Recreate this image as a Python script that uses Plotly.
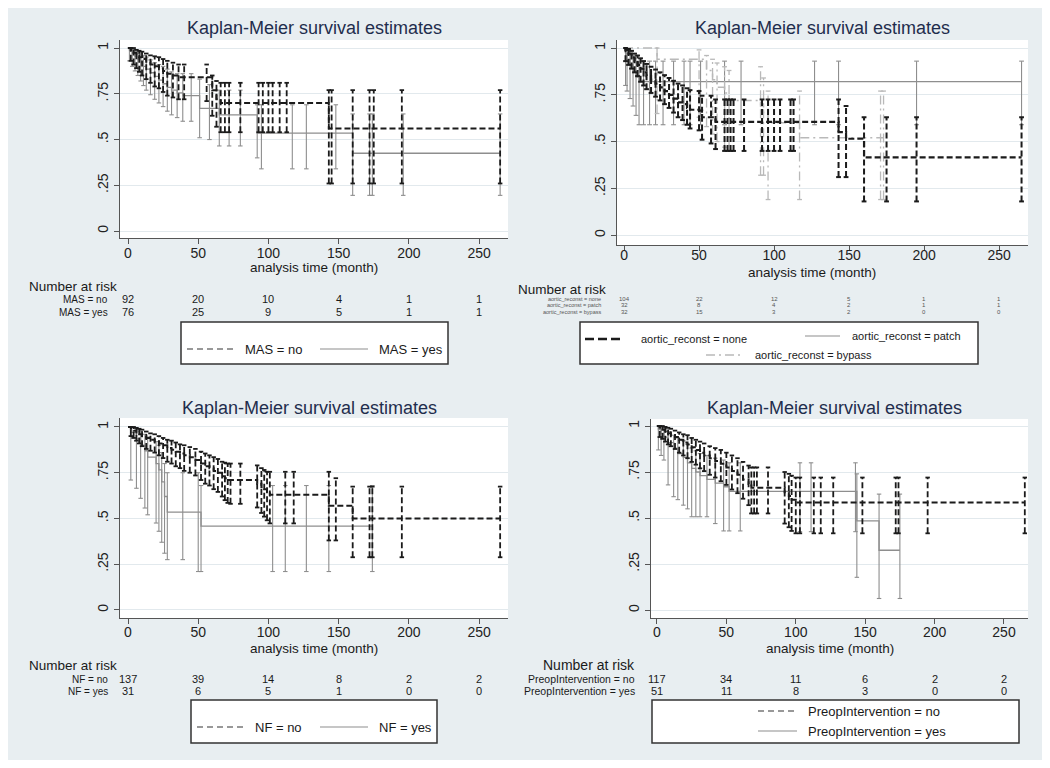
import plotly.graph_objects as go

# The page body has an 8px margin; the figure is sized and positioned so that
# screen pixel coordinates below map directly onto the reference.
OFF = 8
W, H = 1042, 760
def px(x): return (x - OFF) / W
def py(y): return 1 - (y - OFF) / H

# ---------------- DATA ----------------
time_ticks = [0, 50, 100, 150, 200, 250]
surv_ticks = [0, 0.25, 0.5, 0.75, 1]
surv_tick_text = ["0", ".25", ".5", ".75", "1"]

# Panel 1: MAS
mas_no_t = [2, 4, 6, 8, 10, 13, 16, 19, 22, 25, 28, 32, 36, 40, 56, 60, 63, 66, 69, 72, 80, 93, 96, 100, 103, 108, 113, 143, 145, 160, 172, 175, 195, 265]
mas_no_s = [0.99, 0.975, 0.96, 0.95, 0.94, 0.925, 0.91, 0.90, 0.89, 0.875, 0.86, 0.85, 0.84, 0.84, 0.84, 0.77, 0.72, 0.70, 0.70, 0.70, 0.70, 0.70, 0.70, 0.70, 0.70, 0.70, 0.70, 0.56, 0.56, 0.56, 0.56, 0.56, 0.56, 0.56]
mas_no_hi = [1.0, 1.0, 0.99, 0.985, 0.98, 0.97, 0.96, 0.955, 0.95, 0.94, 0.93, 0.92, 0.91, 0.91, 0.91, 0.85, 0.82, 0.81, 0.81, 0.81, 0.81, 0.81, 0.81, 0.81, 0.81, 0.81, 0.81, 0.77, 0.77, 0.77, 0.77, 0.77, 0.77, 0.77]
mas_no_lo = [0.93, 0.91, 0.89, 0.87, 0.85, 0.83, 0.81, 0.79, 0.78, 0.76, 0.74, 0.73, 0.72, 0.72, 0.71, 0.63, 0.57, 0.54, 0.54, 0.54, 0.54, 0.54, 0.54, 0.54, 0.54, 0.54, 0.54, 0.26, 0.26, 0.26, 0.26, 0.26, 0.26, 0.26]

mas_yes_t = [1, 3, 5, 7, 9, 11, 13, 16, 19, 22, 25, 28, 31, 35, 39, 45, 51, 58, 65, 72, 80, 92, 95, 117, 127, 148, 160, 172, 174, 196, 265]
mas_yes_s = [0.99, 0.97, 0.955, 0.94, 0.92, 0.90, 0.885, 0.865, 0.845, 0.825, 0.805, 0.785, 0.77, 0.755, 0.74, 0.74, 0.67, 0.67, 0.635, 0.635, 0.635, 0.535, 0.535, 0.535, 0.535, 0.535, 0.425, 0.425, 0.425, 0.425, 0.425]
mas_yes_hi = [1.0, 1.0, 0.99, 0.98, 0.97, 0.96, 0.95, 0.935, 0.92, 0.91, 0.90, 0.885, 0.87, 0.86, 0.86, 0.86, 0.83, 0.80, 0.77, 0.77, 0.77, 0.69, 0.69, 0.69, 0.69, 0.69, 0.64, 0.64, 0.64, 0.64, 0.64]
mas_yes_lo = [0.93, 0.90, 0.875, 0.85, 0.82, 0.795, 0.77, 0.745, 0.72, 0.70, 0.68, 0.655, 0.635, 0.62, 0.60, 0.60, 0.51, 0.50, 0.465, 0.465, 0.465, 0.40, 0.34, 0.34, 0.34, 0.34, 0.195, 0.195, 0.195, 0.195, 0.195]

mas_risk_labels = ["MAS = no", "MAS = yes"]
mas_risk_no = [92, 20, 10, 4, 1, 1]
mas_risk_yes = [76, 25, 9, 5, 1, 1]

# Panel 2: aortic_reconst
none_t = [1, 3, 5, 7, 9, 11, 13, 15, 18, 21, 24, 27, 30, 33, 36, 39, 42, 44, 50, 52, 58, 61, 67, 69, 71, 73, 80, 92, 96, 100, 104, 111, 113, 143, 148, 160, 175, 195, 265]
none_s = [0.99, 0.97, 0.95, 0.93, 0.91, 0.89, 0.87, 0.85, 0.83, 0.81, 0.79, 0.77, 0.75, 0.73, 0.71, 0.70, 0.68, 0.67, 0.665, 0.63, 0.63, 0.605, 0.605, 0.605, 0.605, 0.605, 0.605, 0.605, 0.605, 0.605, 0.605, 0.605, 0.605, 0.55, 0.515, 0.415, 0.415, 0.415, 0.415]
none_hi = [1.0, 0.995, 0.985, 0.97, 0.96, 0.945, 0.93, 0.915, 0.90, 0.885, 0.87, 0.855, 0.84, 0.825, 0.81, 0.80, 0.785, 0.775, 0.77, 0.745, 0.745, 0.725, 0.725, 0.725, 0.725, 0.725, 0.725, 0.725, 0.725, 0.725, 0.725, 0.725, 0.725, 0.725, 0.69, 0.63, 0.63, 0.63, 0.63]
none_lo = [0.93, 0.91, 0.89, 0.87, 0.85, 0.82, 0.80, 0.78, 0.76, 0.74, 0.72, 0.70, 0.68, 0.655, 0.63, 0.615, 0.59, 0.57, 0.56, 0.51, 0.49, 0.46, 0.45, 0.45, 0.45, 0.45, 0.45, 0.45, 0.45, 0.45, 0.45, 0.45, 0.45, 0.31, 0.31, 0.18, 0.18, 0.18, 0.18]

patch_t = [1, 2, 4, 6, 8, 10, 13, 17, 21, 26, 33, 40, 44, 51, 67, 78, 127, 143, 195, 265]
patch_s = [0.97, 0.94, 0.91, 0.875, 0.845, 0.82, 0.82, 0.82, 0.82, 0.82, 0.82, 0.82, 0.82, 0.82, 0.82, 0.82, 0.82, 0.82, 0.82, 0.82]
patch_hi = [1.0, 0.99, 0.98, 0.96, 0.945, 0.93, 0.93, 0.93, 0.93, 0.93, 0.93, 0.93, 0.93, 0.93, 0.93, 0.93, 0.93, 0.93, 0.93, 0.93]
patch_lo = [0.80, 0.77, 0.73, 0.69, 0.64, 0.59, 0.59, 0.59, 0.59, 0.59, 0.59, 0.59, 0.59, 0.59, 0.59, 0.59, 0.59, 0.59, 0.59, 0.59]

bypass_t = [22, 50, 55, 59, 62, 67, 70, 91, 93, 96, 117, 171, 173]
bypass_s = [0.94, 0.94, 0.88, 0.83, 0.79, 0.76, 0.72, 0.69, 0.65, 0.60, 0.52, 0.52, 0.52]
bypass_hi = [1.0, 0.99, 0.96, 0.94, 0.92, 0.90, 0.88, 0.90, 0.84, 0.77, 0.77, 0.77, 0.77]
bypass_lo = [0.65, 0.63, 0.58, 0.54, 0.50, 0.47, 0.45, 0.32, 0.32, 0.19, 0.19, 0.19, 0.19]

aortic_risk_labels = ["aortic_reconst = none", "aortic_reconst = patch", "aortic_reconst = bypass"]
aortic_risk_none = [104, 22, 12, 5, 1, 1]
aortic_risk_patch = [32, 8, 4, 2, 1, 1]
aortic_risk_bypass = [32, 15, 3, 2, 0, 0]

# Panel 3: NF
nf_no_t = [2, 4, 6, 8, 10, 13, 16, 19, 22, 25, 28, 31, 34, 37, 40, 44, 48, 52, 55, 58, 61, 64, 67, 69, 71, 73, 80, 92, 95, 97, 99, 101, 112, 118, 143, 148, 160, 172, 174, 195, 265]
nf_no_s = [0.99, 0.98, 0.97, 0.96, 0.95, 0.94, 0.93, 0.92, 0.91, 0.90, 0.885, 0.875, 0.865, 0.855, 0.845, 0.835, 0.82, 0.80, 0.785, 0.775, 0.76, 0.75, 0.73, 0.72, 0.71, 0.71, 0.71, 0.69, 0.67, 0.66, 0.645, 0.63, 0.63, 0.63, 0.57, 0.57, 0.50, 0.50, 0.50, 0.50, 0.50]
nf_no_hi = [1.0, 1.0, 0.995, 0.99, 0.985, 0.975, 0.965, 0.96, 0.95, 0.94, 0.93, 0.925, 0.915, 0.905, 0.90, 0.89, 0.88, 0.865, 0.855, 0.845, 0.835, 0.825, 0.81, 0.805, 0.80, 0.80, 0.80, 0.79, 0.775, 0.765, 0.755, 0.755, 0.755, 0.755, 0.755, 0.72, 0.674, 0.674, 0.674, 0.674, 0.674]
nf_no_lo = [0.95, 0.94, 0.925, 0.91, 0.895, 0.88, 0.87, 0.86, 0.845, 0.83, 0.81, 0.80, 0.785, 0.775, 0.76, 0.75, 0.735, 0.71, 0.69, 0.68, 0.66, 0.645, 0.62, 0.60, 0.585, 0.58, 0.58, 0.56, 0.53, 0.51, 0.49, 0.473, 0.473, 0.473, 0.38, 0.38, 0.288, 0.288, 0.288, 0.288, 0.288]

nf_yes_t = [2, 6, 9, 12, 14, 20, 22, 24, 26, 28, 39, 50, 52, 103, 112, 127, 143, 174]
nf_yes_s = [0.97, 0.935, 0.90, 0.87, 0.835, 0.80, 0.765, 0.70, 0.62, 0.535, 0.535, 0.535, 0.458, 0.458, 0.458, 0.458, 0.458, 0.458]
nf_yes_hi = [1.0, 0.99, 0.975, 0.96, 0.945, 0.92, 0.90, 0.86, 0.80, 0.75, 0.75, 0.75, 0.68, 0.68, 0.68, 0.68, 0.68, 0.68]
nf_yes_lo = [0.71, 0.665, 0.61, 0.557, 0.52, 0.475, 0.43, 0.37, 0.31, 0.275, 0.275, 0.21, 0.21, 0.21, 0.21, 0.21, 0.21, 0.21]

nf_risk_labels = ["NF = no", "NF = yes"]
nf_risk_no = [137, 39, 14, 8, 2, 2]
nf_risk_yes = [31, 6, 5, 1, 0, 0]

# Panel 4: PreopIntervention
pre_no_t = [2, 4, 6, 8, 10, 13, 16, 19, 22, 25, 28, 31, 34, 38, 42, 46, 50, 54, 58, 62, 66, 68, 70, 72, 80, 92, 95, 97, 100, 103, 113, 118, 127, 148, 172, 174, 195, 265]
pre_no_s = [0.99, 0.98, 0.97, 0.96, 0.95, 0.94, 0.925, 0.91, 0.90, 0.885, 0.87, 0.855, 0.84, 0.825, 0.81, 0.795, 0.775, 0.755, 0.735, 0.71, 0.685, 0.665, 0.665, 0.665, 0.665, 0.64, 0.62, 0.60, 0.585, 0.585, 0.585, 0.585, 0.585, 0.585, 0.585, 0.585, 0.585, 0.585]
pre_no_hi = [1.0, 1.0, 0.995, 0.99, 0.985, 0.975, 0.965, 0.955, 0.95, 0.935, 0.925, 0.915, 0.905, 0.89, 0.88, 0.87, 0.855, 0.84, 0.825, 0.805, 0.785, 0.775, 0.775, 0.775, 0.775, 0.75, 0.74, 0.73, 0.72, 0.72, 0.72, 0.72, 0.72, 0.72, 0.72, 0.72, 0.72, 0.72]
pre_no_lo = [0.94, 0.93, 0.915, 0.90, 0.89, 0.875, 0.855, 0.84, 0.825, 0.805, 0.79, 0.77, 0.755, 0.735, 0.72, 0.70, 0.68, 0.655, 0.635, 0.605, 0.57, 0.525, 0.525, 0.525, 0.525, 0.47, 0.45, 0.43, 0.417, 0.417, 0.417, 0.417, 0.417, 0.417, 0.417, 0.417, 0.417, 0.417]

pre_yes_t = [1, 3, 5, 8, 12, 15, 19, 22, 25, 28, 31, 36, 42, 48, 52, 60, 103, 111, 143, 144, 160, 175]
pre_yes_s = [0.98, 0.96, 0.94, 0.91, 0.88, 0.85, 0.83, 0.80, 0.77, 0.75, 0.73, 0.71, 0.69, 0.67, 0.645, 0.645, 0.645, 0.645, 0.645, 0.485, 0.325, 0.325]
pre_yes_hi = [1.0, 0.995, 0.985, 0.97, 0.95, 0.935, 0.92, 0.90, 0.88, 0.865, 0.85, 0.84, 0.825, 0.815, 0.80, 0.80, 0.80, 0.80, 0.80, 0.74, 0.63, 0.63]
pre_yes_lo = [0.87, 0.84, 0.815, 0.68, 0.616, 0.60, 0.57, 0.55, 0.507, 0.507, 0.507, 0.507, 0.47, 0.43, 0.43, 0.43, 0.426, 0.426, 0.426, 0.178, 0.063, 0.063]

pre_risk_labels = ["PreopIntervention = no", "PreopIntervention = yes"]
pre_risk_no = [117, 34, 11, 6, 2, 2]
pre_risk_yes = [51, 11, 8, 3, 0, 0]

# ---------------- STYLE ----------------
FONT = "Liberation Sans, Arial, sans-serif"
BG = "#e8eef1"
BLACK = "#1b1b1b"
GRAY = "#8e8e8e"
LIGHT = "#b9b9b9"
AX = "#555555"
GRID = "#e2e9ed"
TITLE_C = "#1f2d4d"
DASH = "6px,3px"
DASHDOT = "9px,4px,2px,4px"

fig = go.Figure()


def add_km(ax, t, s, lo, hi, color, dash, lw, bw, cap=1.6):
    xa = "x" if ax == 1 else f"x{ax}"
    ya = "y" if ax == 1 else f"y{ax}"
    bx, by, cx, cy = [], [], [], []
    for ti, l, h in zip(t, lo, hi):
        bx += [ti, ti, None]
        by += [l, h, None]
        cx += [ti - cap, ti + cap, None, ti - cap, ti + cap, None]
        cy += [h, h, None, l, l, None]
    common = dict(xaxis=xa, yaxis=ya, mode="lines", hoverinfo="skip", showlegend=False)
    fig.add_trace(go.Scatter(x=bx, y=by, line=dict(color=color, width=bw, dash=dash), **common))
    fig.add_trace(go.Scatter(x=cx, y=cy, line=dict(color=color, width=bw), **common))
    fig.add_trace(go.Scatter(x=[0] + list(t), y=[1] + list(s), line_shape="hv",
                             line=dict(color=color, width=lw, dash=dash), **common))


add_km(1, mas_yes_t, mas_yes_s, mas_yes_lo, mas_yes_hi, GRAY, "solid", 1.3, 1.1)
add_km(1, mas_no_t, mas_no_s, mas_no_lo, mas_no_hi, BLACK, DASH, 2, 1.8)

add_km(2, patch_t, patch_s, patch_lo, patch_hi, GRAY, "solid", 1.3, 1.1)
add_km(2, bypass_t, bypass_s, bypass_lo, bypass_hi, LIGHT, DASHDOT, 1.5, 1.3)
add_km(2, none_t, none_s, none_lo, none_hi, BLACK, DASH, 2.2, 2)

add_km(3, nf_yes_t, nf_yes_s, nf_yes_lo, nf_yes_hi, GRAY, "solid", 1.3, 1.1)
add_km(3, nf_no_t, nf_no_s, nf_no_lo, nf_no_hi, BLACK, DASH, 2, 1.8)

add_km(4, pre_yes_t, pre_yes_s, pre_yes_lo, pre_yes_hi, GRAY, "solid", 1.3, 1.1)
add_km(4, pre_no_t, pre_no_s, pre_no_lo, pre_no_hi, BLACK, DASH, 2, 1.8)

# ---------------- AXES ----------------
panels = {
    1: dict(xdom=[px(120), px(508)], ydom=[py(238), py(40)], xr=[-5.7, 270.6], yr=[-0.038, 1.044], so=-3),
    2: dict(xdom=[px(617), px(1028)], ydom=[py(245), py(40)], xr=[-4.7, 269.3], yr=[-0.053, 1.043], so=-8),
    3: dict(xdom=[px(120), px(508)], ydom=[py(618), py(418)], xr=[-5.7, 270.6], yr=[-0.044, 1.049], so=-4),
    4: dict(xdom=[px(651), px(1028)], ydom=[py(618), py(419)], xr=[-4.3, 267.3], yr=[-0.043, 1.038], so=-4),
}
lay = {}
for i, p in panels.items():
    sx = "" if i == 1 else str(i)
    lay[f"xaxis{sx}"] = dict(domain=p["xdom"], range=p["xr"], anchor=f"y{sx}",
                             tickvals=time_ticks, showgrid=False, zeroline=False,
                             showline=True, linecolor=AX, linewidth=1, ticks="outside",
                             ticklen=5, tickcolor=AX, ticklabelstandoff=p["so"],
                             tickfont=dict(size=14, color="#222", family=FONT))
    lay[f"yaxis{sx}"] = dict(domain=p["ydom"], range=p["yr"], anchor=f"x{sx}",
                             tickvals=surv_ticks, ticktext=surv_tick_text, tickangle=-90,
                             showgrid=True, gridcolor=GRID, gridwidth=1, zeroline=False,
                             showline=True, linecolor=AX, linewidth=1, ticks="outside",
                             ticklen=5, tickcolor=AX, tickfont=dict(size=14, color="#222", family=FONT))
fig.update_layout(**lay)

# ---------------- ANNOTATIONS ----------------
ann = []
def text(x, y, s, size, anchor="left", color="#1a1a1a", xref="paper"):
    ann.append(dict(x=x if xref != "paper" else px(x), y=py(y), xref=xref, yref="paper",
                    text=s, showarrow=False, xanchor=anchor, yanchor="middle",
                    font=dict(size=size, color=color, family=FONT)))

title = "Kaplan-Meier survival estimates"
text(314, 28, title, 18, "center", TITLE_C)
text(822, 28, title, 18, "center", TITLE_C)
text(309, 408, title, 18, "center", TITLE_C)
text(834, 408, title, 18, "center", TITLE_C)

xt = "analysis time (month)"
text(314, 268, xt, 13.5, "center")
text(812, 273, xt, 13.5, "center")
text(314, 648, xt, 13.5, "center")
text(830, 648, xt, 13.5, "center")

# risk tables
text(27, 286, "Number at risk", 13.5, "left")
for lab, vals, yy in zip(mas_risk_labels, [mas_risk_no, mas_risk_yes], [299, 312]):
    text(110, yy, lab, 10, "right")
    for tv, v in zip(time_ticks, vals):
        text(tv, yy, str(v), 11, "center", xref="x")

text(516, 290, "Number at risk", 13.5, "left")
for lab, vals, yy in zip(aortic_risk_labels, [aortic_risk_none, aortic_risk_patch, aortic_risk_bypass], [299, 305, 312]):
    text(603, yy, lab, 5.5, "right", "#555")
    for tv, v in zip(time_ticks, vals):
        text(tv, yy, str(v), 6, "center", "#555", xref="x2")

text(27, 665, "Number at risk", 13.5, "left")
for lab, vals, yy in zip(nf_risk_labels, [nf_risk_no, nf_risk_yes], [679, 691]):
    text(110, yy, lab, 10, "right")
    for tv, v in zip(time_ticks, vals):
        text(tv, yy, str(v), 11, "center", xref="x3")

text(637, 665, "Number at risk", 14, "right")
for lab, vals, yy in zip(pre_risk_labels, [pre_risk_no, pre_risk_yes], [679, 691]):
    text(637, yy, lab, 10.5, "right")
    for tv, v in zip(time_ticks, vals):
        text(tv, yy, str(v), 11, "center", xref="x4")

# legends (text)
text(243, 349, "MAS = no", 13)
text(377, 349, "MAS = yes", 13)
text(639, 339, "aortic_reconst = none", 11)
text(850, 336, "aortic_reconst = patch", 11)
text(753, 355, "aortic_reconst = bypass", 11)
text(253, 727, "NF = no", 13)
text(377, 727, "NF = yes", 13)
text(806, 711, "PreopIntervention = no", 13)
text(806, 731, "PreopIntervention = yes", 13)

# ---------------- SHAPES ----------------
shapes = []
def rect(x0, y0, x1, y1, fill, line_color=None, lw=0, layer="above"):
    shapes.append(dict(type="rect", xref="paper", yref="paper", x0=px(x0), x1=px(x1),
                       y0=py(y1), y1=py(y0), fillcolor=fill, layer=layer,
                       line=dict(color=line_color or fill, width=lw)))
def seg(x0, x1, y, color, width, dash="solid"):
    shapes.append(dict(type="line", xref="paper", yref="paper", x0=px(x0), x1=px(x1),
                       y0=py(y), y1=py(y), line=dict(color=color, width=width, dash=dash)))

# white outer margin (right / bottom; left & top come from the page margin)
rect(0, 760, 1060, 780, "white")
rect(1045, 0, 1060, 780, "white")

# legend boxes
rect(181, 322, 448, 364, "white", "#333", 1.5)
rect(580, 322, 978, 364, "white", "#333", 1.5)
rect(191, 700, 437, 743, "white", "#333", 1.5)
rect(652, 700, 1019, 743, "white", "#333", 1.5)

seg(187, 235, 349, "#333", 1.2, "6px,4px")
seg(320, 368, 349, GRAY, 1.2)
seg(585, 622, 339, BLACK, 2.5, "9px,4px")
seg(805, 840, 336, GRAY, 1.2)
seg(706, 742, 355, LIGHT, 1.5, DASHDOT)
seg(197, 245, 727, "#333", 1.2, "6px,4px")
seg(320, 368, 727, GRAY, 1.2)
seg(758, 797, 711, "#333", 1.2, "6px,4px")
seg(758, 797, 731, GRAY, 1.2)

fig.update_layout(
    width=W, height=H, margin=dict(l=0, r=0, t=0, b=0),
    paper_bgcolor=BG, plot_bgcolor="white",
    annotations=ann, shapes=shapes, showlegend=False,
    font=dict(family=FONT),
)

fig.write_html("out.html")
